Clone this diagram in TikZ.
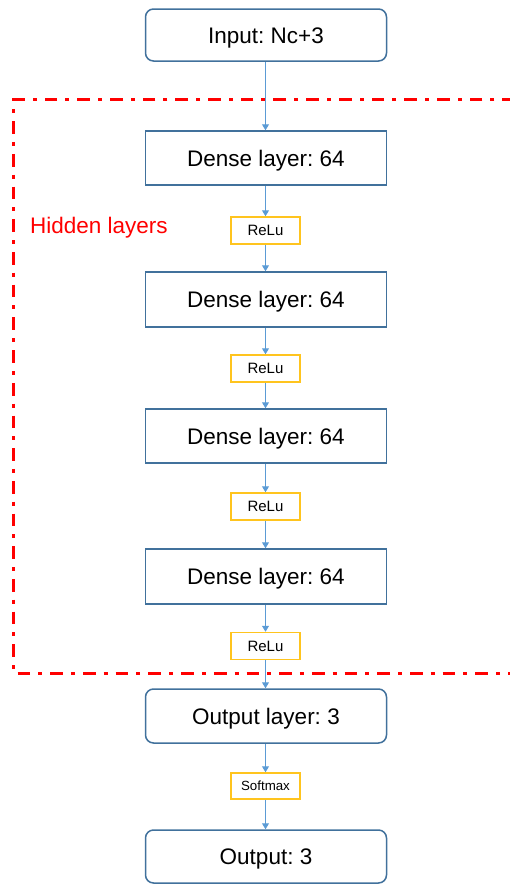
\documentclass[tikz,border=0pt]{standalone}
\usepackage{fontspec}
\setmainfont{Liberation Sans}
\usetikzlibrary{arrows.meta}
\definecolor{boxblue}{RGB}{65,113,156}
\definecolor{actgold}{RGB}{255,196,30}
\definecolor{linkblue}{RGB}{91,155,213}
\frenchspacing
\begin{document}
\begin{tikzpicture}[x=1pt,y=-1pt,
  layer/.style={draw=boxblue, line width=1.5pt, fill=white, minimum width=241pt,
    minimum height=54pt, inner sep=0pt, font=\fontsize{22.5}{27}\selectfont,
    text height=16.1pt, text depth=0pt},
  termbox/.style={layer, rounded corners=8pt},
  actbox/.style={draw=actgold, line width=1.5pt, fill=white, minimum width=69pt,
    minimum height=27pt, inner sep=0pt, font=\fontsize{15}{18}\selectfont,
    text height=10.8pt, text depth=0pt},
  link/.style={draw=linkblue, line width=1pt, -{Triangle[length=6pt,width=7pt]}},
  hidden/.style={draw=red, line width=3pt, dash pattern=on 12.7pt off 8pt on 4pt off 8pt}]
\useasboundingbox (0,0) rectangle (509,884);

% group frame around the hidden layers
\draw[hidden] (515,99.5) -- (13.5,99.5) -- (13.5,673) -- (515,673);
\node[anchor=west, text=red, font=\fontsize{22.5}{27}\selectfont, inner sep=0pt] (hl) at (30,228) {Hidden layers};

% network stack
\node[termbox, minimum height=52pt] (in) at (266,35) {Input: Nc+3};
\node[layer] (d1) at (266,158) {Dense layer: 64};
\node[actbox] (r1) at (265.5,230.5) {ReLu};
\node[layer, minimum height=55pt] (d2) at (266,299.5) {Dense layer: 64};
\node[actbox] (r2) at (265.5,368.5) {ReLu};
\node[layer] (d3) at (266,436) {Dense layer: 64};
\node[actbox] (r3) at (265.5,506.5) {ReLu};
\node[layer, minimum height=55pt] (d4) at (266,576.5) {Dense layer: 64};
\node[actbox] (r4) at (265.5,646) {ReLu};
\node[termbox] (ol) at (266,716) {Output layer: 3};
\node[actbox, minimum height=26pt, font=\fontsize{13.3}{16}\selectfont, text height=9.6pt] (sm) at (265.5,786) {Softmax};
\node[termbox, minimum height=53pt] (out) at (266,856.5) {Output: 3};

% connectors
\foreach \a/\b in {in/d1, d1/r1, r1/d2, d2/r2, r2/d3, d3/r3, r3/d4, d4/r4, r4/ol, ol/sm, sm/out}
  \draw[link] (\a.south -| 265.5,0) -- (\b.north -| 265.5,0);
\end{tikzpicture}
\end{document}
